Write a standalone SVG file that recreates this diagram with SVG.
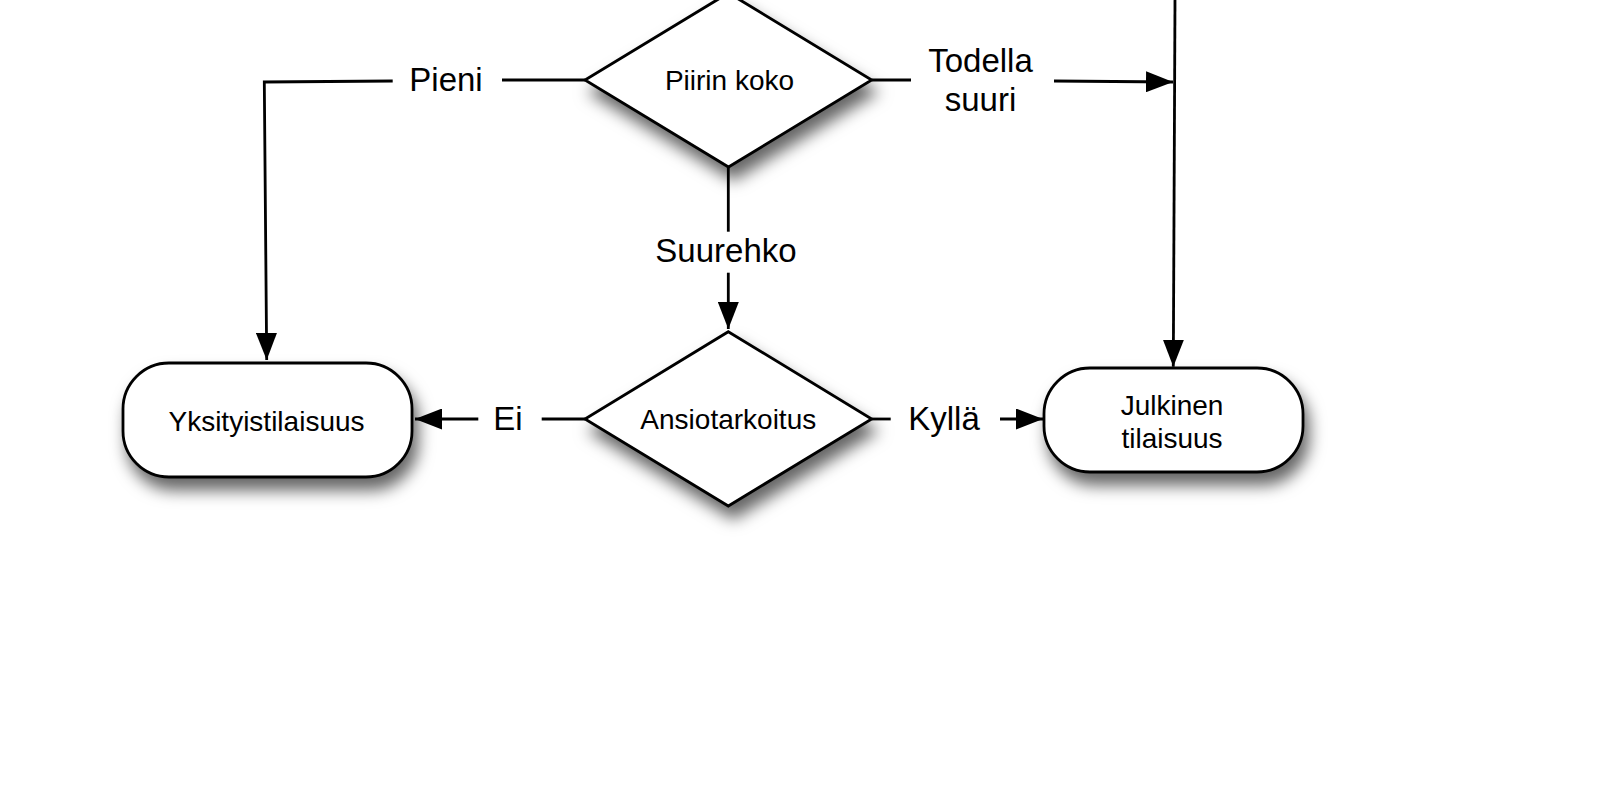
<svg xmlns="http://www.w3.org/2000/svg" width="1600" height="800" viewBox="0 0 1600 800">
  <defs>
    <filter id="shadow" x="-25%" y="-25%" width="150%" height="170%">
      <feDropShadow dx="5" dy="12" stdDeviation="8" flood-color="#000" flood-opacity="0.6"/>
    </filter>
    <marker id="arrow" markerUnits="userSpaceOnUse" markerWidth="27" markerHeight="21" refX="27" refY="10.5" orient="auto">
      <path d="M0,0 L27,10.5 L0,21 z" fill="#000"/>
    </marker>
    <style>
      .shape { fill: #fff; stroke: #000; stroke-width: 2.8; filter: url(#shadow); }
      .node { font-family: "Liberation Sans", Arial, Helvetica, sans-serif; font-size: 28px; fill: #000; text-anchor: middle; }
      .label { font-family: "Liberation Sans", Arial, Helvetica, sans-serif; font-size: 33px; fill: #000; text-anchor: middle; }
      .line { fill: none; stroke: #000; stroke-width: 2.8; }
      .arrow { marker-end: url(#arrow); }
    </style>
  </defs>
  <rect width="1600" height="800" fill="#fff"/>

  <g id="connectors">
    <path class="line" d="M585,80 L502,80"/>
    <path class="line arrow" d="M392.7,81 L264.3,82 L266.7,360"/>
    <path class="line" d="M871.7,80 L911,80"/>
    <path class="line arrow" d="M1054,81 L1173,82"/>
    <path class="line arrow" d="M1175,0 L1173.3,366.7"/>
    <path class="line" d="M728.3,167 L728.3,231.7"/>
    <path class="line arrow" d="M728.3,272.7 L728.3,329"/>
    <path class="line" d="M585,419 L541.7,419"/>
    <path class="line arrow" d="M478.3,419 L415,419"/>
    <path class="line" d="M871.7,419 L890.7,419"/>
    <path class="line arrow" d="M1000,419 L1043,419"/>
    <text class="label" x="446" y="91">Pieni</text>
    <text class="label" x="980.5" y="71.7">Todella</text>
    <text class="label" x="980.5" y="110.7">suuri</text>
    <text class="label" x="726" y="261.7">Suurehko</text>
    <text class="label" x="508" y="430">Ei</text>
    <text class="label" x="944" y="430">Kyllä</text>
  </g>

  <g id="piirin-koko">
    <polygon class="shape" points="728.5,-7 871.7,80 728.5,167 585,80"/>
    <text class="node" x="729.5" y="90">Piirin koko</text>
  </g>

  <g id="ansiotarkoitus">
    <polygon class="shape" points="728.3,331.7 871.7,419 728.3,506 585,419"/>
    <text class="node" x="728.3" y="429">Ansiotarkoitus</text>
  </g>

  <g id="yksityistilaisuus">
    <rect class="shape" x="123" y="363" width="289" height="114" rx="46" ry="46"/>
    <text class="node" x="266.5" y="431">Yksityistilaisuus</text>
  </g>

  <g id="julkinen-tilaisuus">
    <rect class="shape" x="1044" y="368" width="259" height="104" rx="46" ry="46"/>
    <text class="node" x="1172" y="415">Julkinen</text>
    <text class="node" x="1172" y="448.3">tilaisuus</text>
  </g>
</svg>
